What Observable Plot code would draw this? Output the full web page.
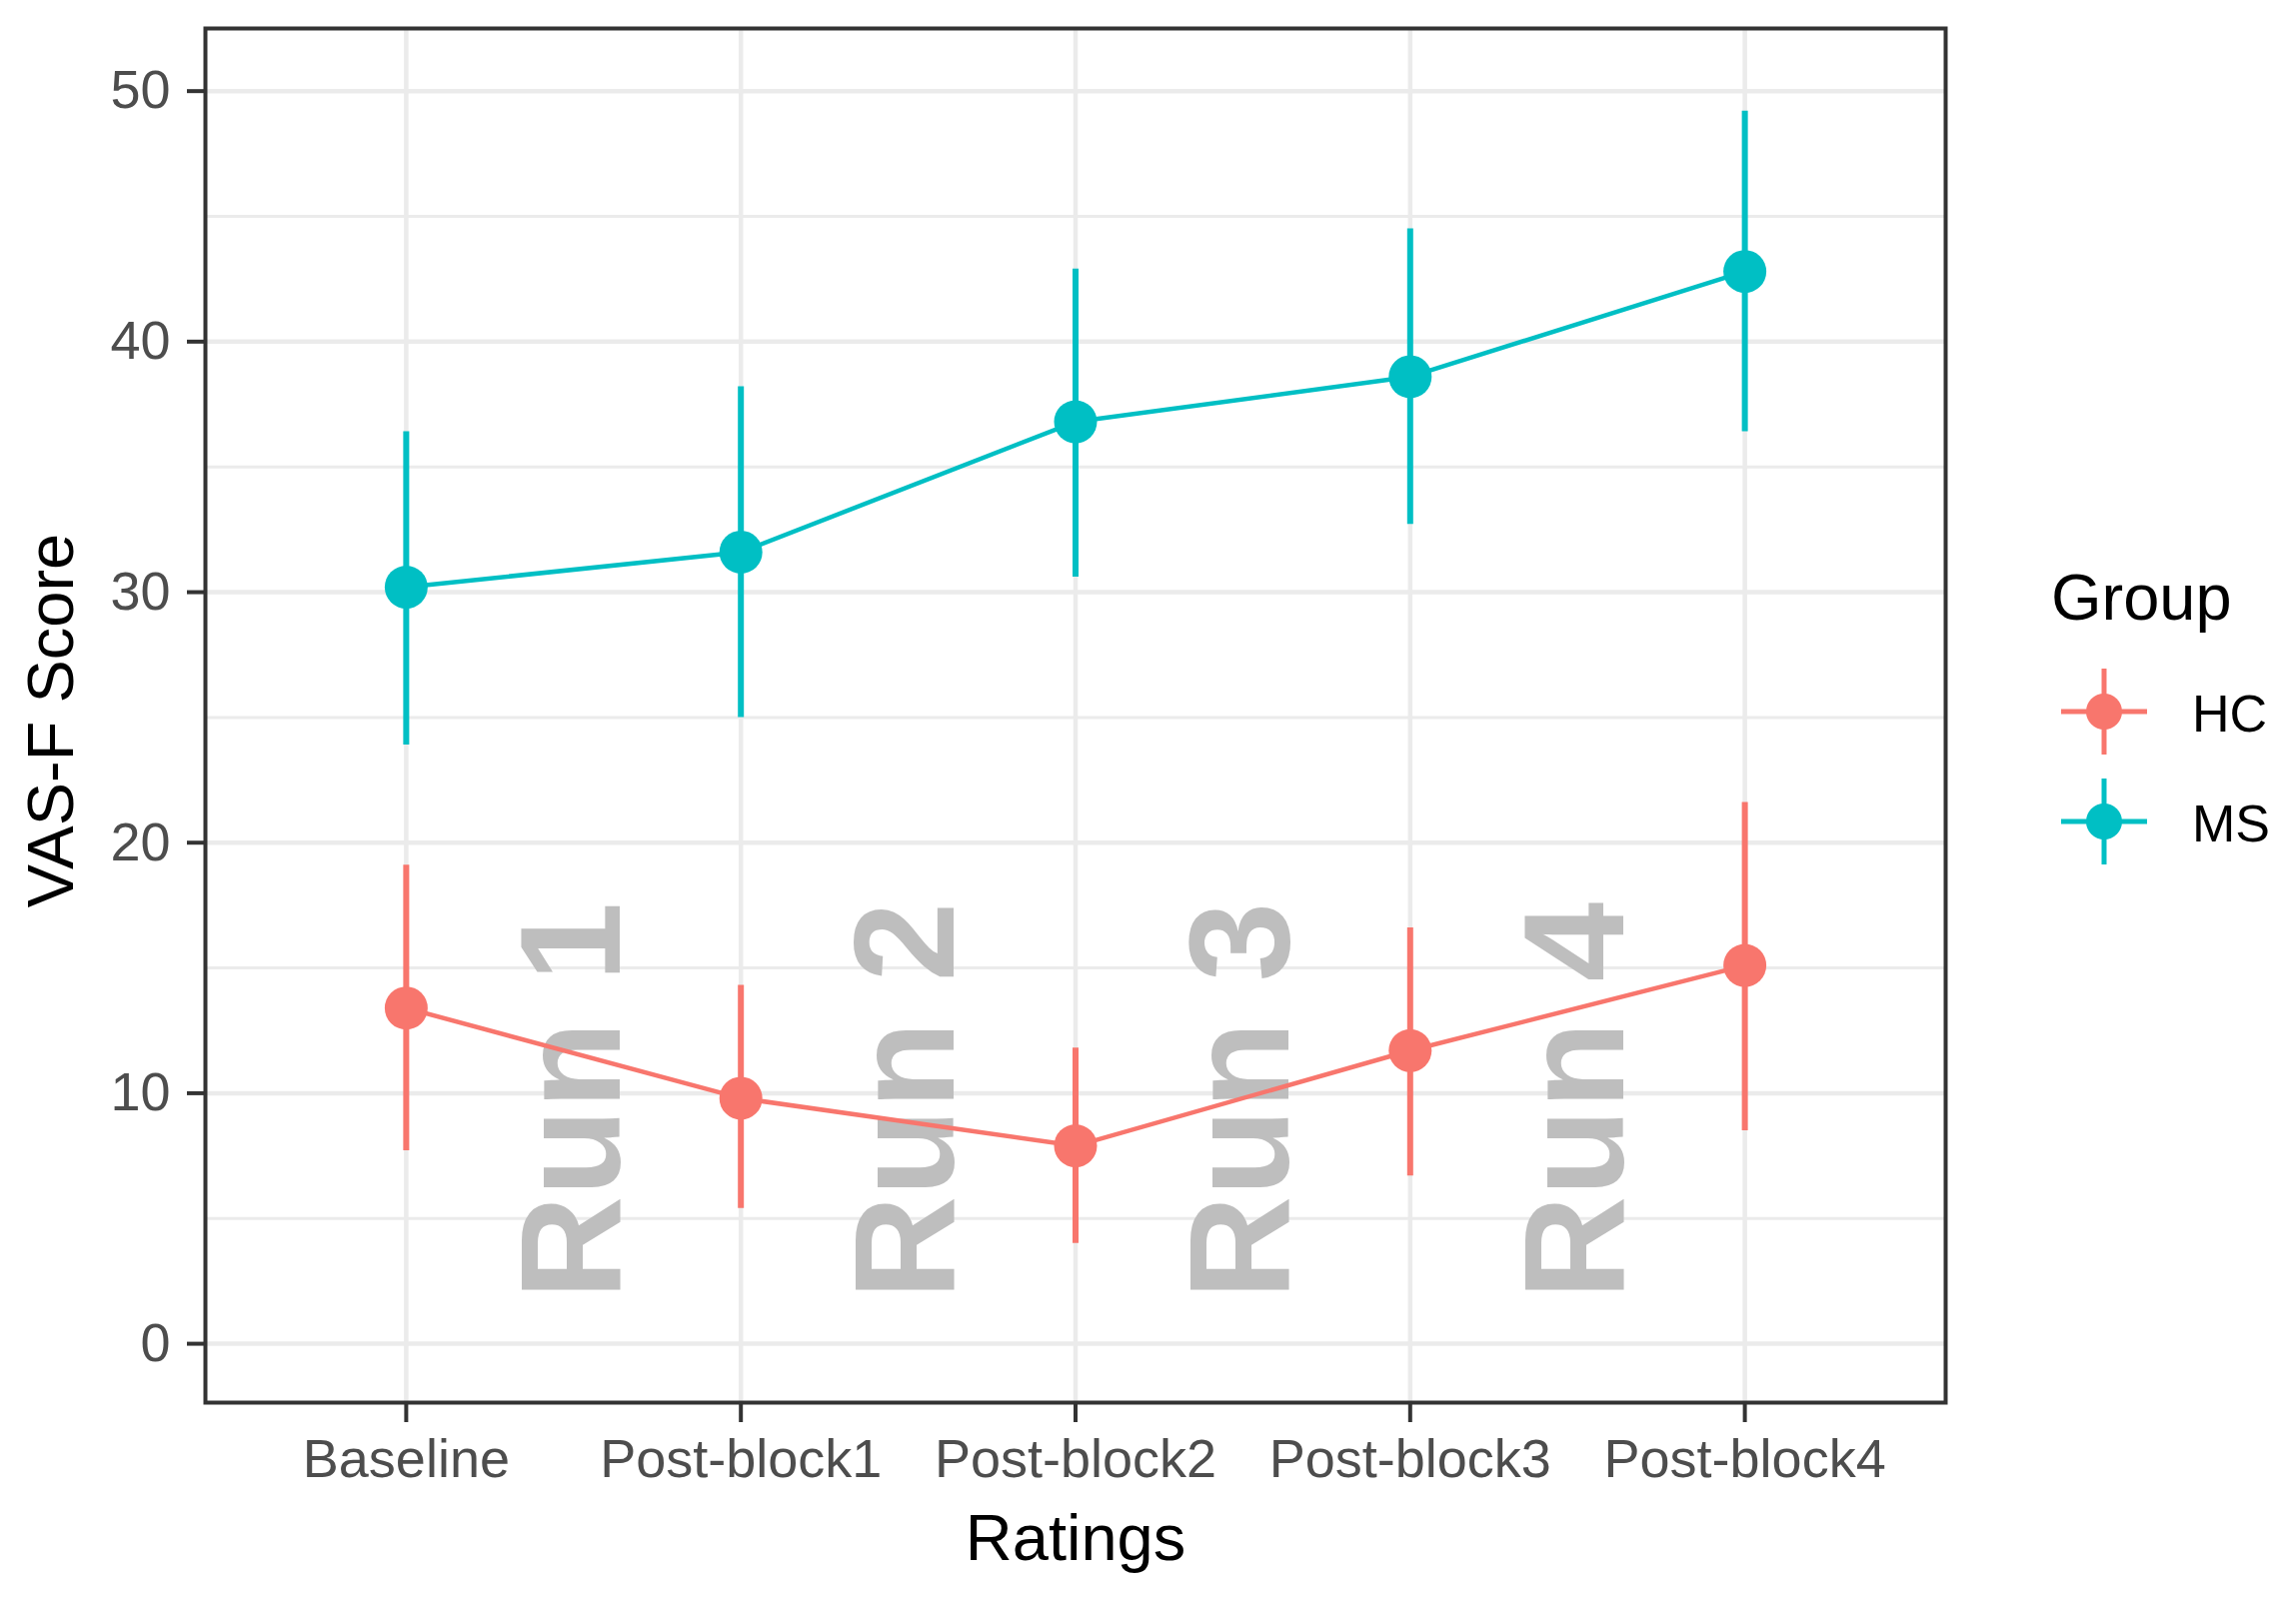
<!DOCTYPE html>
<html>
<head>
<meta charset="utf-8">
<script src="https://cdn.jsdelivr.net/npm/d3@7"></script>
<script src="https://cdn.jsdelivr.net/npm/@observablehq/plot@0.6"></script>
<style>
  html, body { margin: 0; padding: 0; background: white; }
  #wrap { position: relative; width: 2297px; height: 1602px; font-family: "Liberation Sans", Arial, Helvetica, sans-serif; }
  #legend { position: absolute; left: 2000px; top: 540px; }
</style>
</head>
<body>
<div id="wrap"></div>
<script>
// ---- data ----
const ratings = ["Baseline", "Post-block1", "Post-block2", "Post-block3", "Post-block4"];
const groups = ["HC", "MS"];
const groupColors = ["#F8766D", "#00BFC4"];

const hcMean = [13.4, 9.8, 7.9, 11.7, 15.1];
const hcLow  = [7.7, 5.4, 4.0, 6.7, 8.5];
const hcHigh = [19.1, 14.3, 11.8, 16.6, 21.6];

const msMean = [30.2, 31.6, 36.8, 38.6, 42.8];
const msLow  = [23.9, 25.0, 30.6, 32.7, 36.4];
const msHigh = [36.4, 38.2, 42.9, 44.5, 49.2];

const runLabels = ["Run 1", "Run 2", "Run 3", "Run 4"];
const yTicks = [0, 10, 20, 30, 40, 50];
const yMinorTicks = [5, 15, 25, 35, 45];

// ---- table built from arrays ----
const rows = [];
ratings.forEach((r, i) => {
  rows.push({group: "HC", idx: i + 1, mean: hcMean[i], lo: hcLow[i], hi: hcHigh[i]});
});
ratings.forEach((r, i) => {
  rows.push({group: "MS", idx: i + 1, mean: msMean[i], lo: msLow[i], hi: msHigh[i]});
});
const runs = runLabels.map((t, i) => ({label: t, pos: i + 1.5, y: 9.7}));

const font = "Liberation Sans, Arial, Helvetica, sans-serif";

const chart = Plot.plot({
  width: 2297,
  height: 1602,
  marginLeft: 205,
  marginRight: 351,
  marginTop: 28,
  marginBottom: 199,
  style: {fontFamily: font, background: "white", overflow: "visible"},
  x: {domain: [0.4, 5.6], axis: null},
  y: {domain: [-2.35, 52.5], axis: null},
  color: {domain: groups, range: groupColors},
  marks: [
    Plot.gridY(yMinorTicks, {stroke: "#EBEBEB", strokeOpacity: 1, strokeWidth: 3}),
    Plot.gridY(yTicks, {stroke: "#EBEBEB", strokeOpacity: 1, strokeWidth: 4.5}),
    Plot.gridX([1, 2, 3, 4, 5], {stroke: "#EBEBEB", strokeOpacity: 1, strokeWidth: 4.5}),
    Plot.text(runs, {
      x: "pos", y: "y", text: "label", rotate: -90,
      fontSize: 143, fontWeight: "bold", fill: "#BEBEBE",
      textAnchor: "middle", lineAnchor: "middle"
    }),
    Plot.ruleX(rows, {x: "idx", y1: "lo", y2: "hi", stroke: "group", strokeWidth: 6}),
    Plot.line(rows, {x: "idx", y: "mean", stroke: "group", z: "group", strokeWidth: 4.5}),
    Plot.dot(rows, {x: "idx", y: "mean", fill: "group", r: 21.5}),
    Plot.axisY({
      ticks: yTicks, tickSize: 18, tickPadding: 17, fontSize: 54,
      stroke: "#333333", fill: "#4D4D4D", strokeWidth: 4, label: null
    }),
    Plot.axisX({
      ticks: [1, 2, 3, 4, 5], tickFormat: i => ratings[i - 1],
      tickSize: 20, tickPadding: 16, fontSize: 54,
      stroke: "#333333", fill: "#4D4D4D", strokeWidth: 4, label: null
    }),
    Plot.text(["Ratings"], {
      text: d => d, frameAnchor: "bottom", textAnchor: "middle", lineAnchor: "middle",
      dy: 137, fontSize: 65, fill: "black"
    }),
    Plot.text(["VAS-F Score"], {
      text: d => d, frameAnchor: "left", textAnchor: "middle", lineAnchor: "middle",
      dx: -153, dy: 5, rotate: -90, fontSize: 65, fill: "black"
    }),
    Plot.frame({stroke: "#333333", strokeWidth: 4})
  ]
});

const wrap = document.getElementById("wrap");
wrap.appendChild(chart);

// ---- legend (ggplot-style) ----
const lg = d3.select(wrap).append("svg")
  .attr("id", "legend")
  .attr("width", 297).attr("height", 340)
  .style("font-family", font);

lg.append("text")
  .attr("x", 52).attr("y", 80)
  .attr("font-size", 65).attr("fill", "black")
  .text("Group");

groups.forEach((g, i) => {
  const cy = 172 + i * 110;
  const cx = 105;
  const c = groupColors[i];
  const k = lg.append("g");
  k.append("line").attr("x1", cx - 43).attr("x2", cx + 43).attr("y1", cy).attr("y2", cy)
    .attr("stroke", c).attr("stroke-width", 5);
  k.append("line").attr("x1", cx).attr("x2", cx).attr("y1", cy - 43).attr("y2", cy + 43)
    .attr("stroke", c).attr("stroke-width", 5);
  k.append("circle").attr("cx", cx).attr("cy", cy).attr("r", 18).attr("fill", c);
  lg.append("text")
    .attr("x", 193).attr("y", cy + 20)
    .attr("font-size", 52).attr("fill", "black")
    .text(g);
});
</script>
</body>
</html>
